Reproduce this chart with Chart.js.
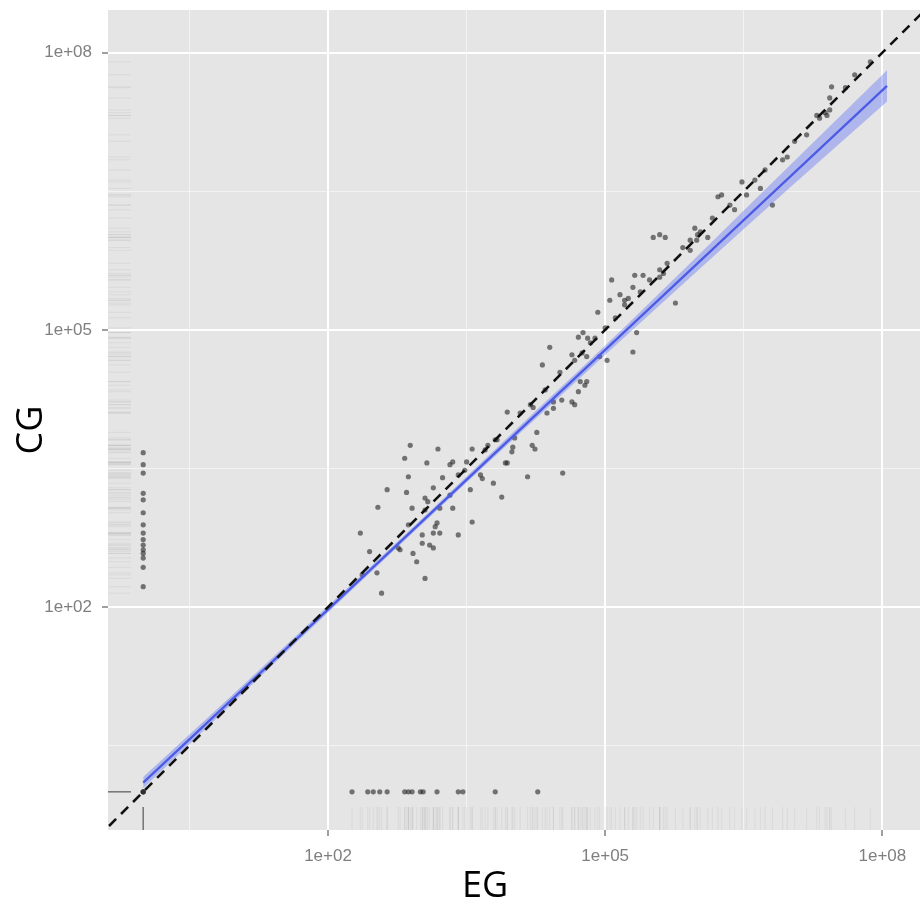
<!DOCTYPE html>
<html>
<head>
<meta charset="utf-8">
<script src="https://cdn.jsdelivr.net/npm/chart.js@4.4.1/dist/chart.umd.min.js"></script>
<style>
html, body { margin: 0; padding: 0; background: #fff; }
#wrap { width: 920px; height: 907px; }
</style>
</head>
<body>
<div id="wrap"><canvas id="chart" width="920" height="907"></canvas></div>
<script>
// ===== DATA (log10 exponents) =====
// main cloud: EG vs CG
const CLOUD_EG = [
  2.89, 3.19, 2.83, 3.07, 3.32, 3.35, 3.50, 3.56, 3.73, 3.83, 4.00, 4.21, 4.24,
  2.87, 3.24, 3.41, 3.65, 3.67, 3.79, 3.94, 4.16, 2.64, 2.85, 3.14, 3.05, 3.08,
  3.32, 3.54, 3.88, 2.54, 2.91, 3.05, 3.21, 3.35, 3.18, 3.16, 2.87, 3.56, 2.35,
  3.02, 3.14, 3.21, 3.41, 3.10, 3.14, 3.02, 2.78, 2.45, 2.92, 2.96, 2.53, 3.05,
  2.58, 4.54, 2.76, 2.37, 3.70, 3.81, 3.48,
  5.07, 5.32, 5.41, 5.76, 5.16, 5.21, 5.25, 5.30, 5.34, 5.30, 5.02, 4.40, 4.32,
  4.71, 4.76, 4.81, 4.84, 4.64, 4.75, 4.80, 4.94, 4.73, 4.78, 4.80, 4.71, 4.64,
  4.67, 4.53, 4.44, 4.19, 4.22, 3.94, 4.37, 4.44, 4.26, 4.02, 3.99, 3.92, 4.08,
  4.35, 4.51, 4.67, 4.89, 5.00, 5.11, 5.21, 5.38, 5.48, 5.59, 5.05, 4.92,
  7.45, 7.43, 6.22, 6.26, 6.48, 6.81, 6.53, 6.92, 6.97, 7.18, 7.38, 7.43, 5.97,
  6.00, 5.99, 6.11, 5.92, 5.84, 5.67, 5.63, 5.59, 5.52, 5.59, 5.65, 7.29, 7.32,
  7.40, 6.03, 6.16, 6.35, 6.62, 6.73, 7.05, 7.60, 7.70, 7.87, 6.68, 6.40, 5.92
];
const CLOUD_CG = [
  3.75, 3.71, 3.61, 3.56, 3.54, 3.57, 3.57, 3.71, 3.75, 3.81, 3.73, 3.75, 3.71,
  3.41, 3.40, 3.43, 3.43, 3.39, 3.34, 3.56, 3.41, 3.27, 3.24, 3.29, 3.18, 3.14,
  3.21, 3.27, 3.19, 3.08, 3.07, 3.05, 3.07, 3.07, 2.91, 2.87, 2.89, 2.92, 2.80,
  2.78, 2.80, 2.80, 2.78, 2.67, 2.64, 2.69, 2.62, 2.60, 2.58, 2.49, 2.37, 2.31,
  2.15, 3.45, 2.64, 2.35, 3.70, 3.81, 3.48,
  5.54, 5.59, 5.59, 5.29, 5.38, 5.32, 5.34, 5.46, 4.97, 4.76, 4.67, 4.81, 4.62,
  4.92, 4.97, 4.91, 4.86, 4.73, 4.75, 4.71, 4.71, 4.44, 4.40, 4.44, 4.33, 4.22,
  4.19, 4.24, 4.22, 4.19, 4.16, 4.11, 4.10, 4.15, 3.89, 3.83, 3.68, 3.56, 4.10,
  4.35, 4.54, 4.67, 4.91, 5.02, 5.13, 5.27, 5.41, 5.54, 5.65, 5.32, 5.19,
  7.63, 7.51, 6.44, 6.46, 6.60, 6.35, 6.46, 6.84, 6.87, 7.11, 7.35, 7.38, 6.10,
  6.03, 5.97, 6.00, 5.86, 5.89, 5.72, 5.61, 5.57, 6.00, 6.03, 6.00, 7.32, 7.29,
  7.32, 6.06, 6.21, 6.35, 6.62, 6.73, 7.04, 7.62, 7.76, 7.90, 6.53, 6.30, 5.97
];
// CG values where EG = 1 (the zeros at the end sit at 1,1)
const COL_CG = [3.67, 3.54, 3.45, 3.23, 3.16, 3.02, 2.89, 2.80, 2.73, 2.67, 2.62, 2.58, 2.53, 2.43, 2.22, 0, 0, 0];
// EG values where CG = 1
const ROW_EG = [2.26, 2.43, 2.49, 2.56, 2.64, 2.83, 2.87, 2.91, 3.00, 3.03, 3.18, 3.41, 3.46, 3.81, 4.27];

// linear fit (log-log) and its confidence band
const FIT_EG = [0, 8.05];
const FIT_CG = [0.10, 7.64];
const BAND_EG = [0, 1, 2, 3, 4, 5, 6, 7, 8.05];
const BAND_LO = [0.04, 0.99, 1.94, 2.88, 3.81, 4.73, 5.64, 6.54, 7.47];
const BAND_HI = [0.16, 1.08, 2.01, 2.94, 3.89, 4.83, 5.80, 6.78, 7.81];
// y = x reference
const DIAG = [-0.5, 8.6];

const MAJOR_TICKS = [2, 5, 8];
const MINOR_TICKS = [0.5, 3.5, 6.5];
const X_RANGE = [-0.381, 8.407];
const Y_RANGE = [-0.413, 8.461];

// ===== HELPERS =====
const pow = e => Math.pow(10, e);
const isMajor = v => MAJOR_TICKS.some(e => Math.abs(Math.log10(v) - e) < 1e-6);
const fmt = v => {
  const e = Math.round(Math.log10(v));
  return isMajor(v) ? '1e+' + String(e).padStart(2, '0') : '';
};

const points = [
  ...CLOUD_EG.map((e, i) => ({ x: pow(e), y: pow(CLOUD_CG[i]) })),
  ...COL_CG.map(c => ({ x: 1, y: pow(c) })),
  ...ROW_EG.map(e => ({ x: pow(e), y: 1 }))
];
const bandLo = BAND_EG.map((e, i) => ({ x: pow(e), y: pow(BAND_LO[i]) }));
const bandHi = BAND_EG.map((e, i) => ({ x: pow(e), y: pow(BAND_HI[i]) }));
const fit = FIT_EG.map((e, i) => ({ x: pow(e), y: pow(FIT_CG[i]) }));
const diag = DIAG.map(e => ({ x: pow(e), y: pow(e) }));

// ===== PLUGINS =====
const panelBg = {
  id: 'panelBg',
  beforeDraw(chart) {
    const { ctx, chartArea: a } = chart;
    ctx.save();
    ctx.fillStyle = '#E5E5E5';
    ctx.fillRect(a.left, a.top, a.right - a.left, a.bottom - a.top);
    ctx.restore();
  }
};

const rug = {
  id: 'rug',
  beforeDatasetsDraw(chart) {
    const { ctx, chartArea: a, scales: { x, y } } = chart;
    const len = 23;
    ctx.save();
    ctx.strokeStyle = 'rgba(0,0,0,0.045)';
    ctx.lineWidth = 1.2;
    points.forEach(p => {
      const px = x.getPixelForValue(p.x);
      const py = y.getPixelForValue(p.y);
      ctx.beginPath(); ctx.moveTo(px, a.bottom); ctx.lineTo(px, a.bottom - len); ctx.stroke();
      ctx.beginPath(); ctx.moveTo(a.left, py); ctx.lineTo(a.left + len, py); ctx.stroke();
    });
    ctx.restore();
  }
};

const axisTitles = {
  id: 'axisTitles',
  afterDraw(chart) {
    const ctx = chart.ctx;
    ctx.save();
    ctx.fillStyle = '#000';
    ctx.font = '36px "Open Sans", "Noto Sans", sans-serif';
    ctx.textAlign = 'center';
    ctx.textBaseline = 'alphabetic';
    ctx.fillText('EG', 485, 897);
    ctx.translate(42, 430);
    ctx.rotate(-Math.PI / 2);
    ctx.fillText('CG', 0, 0);
    ctx.restore();
  }
};

// ===== CHART =====
const axis = (range, size) => ({
  type: 'logarithmic',
  min: pow(range[0]),
  max: pow(range[1]),
  afterBuildTicks: s => {
    s.ticks = [...MINOR_TICKS, ...MAJOR_TICKS].sort((a, b) => a - b).map(e => ({ value: pow(e) }));
  },
  afterFit: s => {
    size(s);
    s.paddingTop = 0; s.paddingBottom = 0; s.paddingLeft = 0; s.paddingRight = 0;
  },
  border: { display: false },
  grid: {
    color: c => (c.tick && isMajor(c.tick.value) ? '#FFFFFF' : 'rgba(255,255,255,0.55)'),
    lineWidth: c => (c.tick && isMajor(c.tick.value) ? 2 : 1),
    tickColor: c => (c.tick && isMajor(c.tick.value) ? '#7F7F7F' : 'rgba(0,0,0,0)'),
    tickLength: 6,
    tickWidth: 1.5
  },
  ticks: {
    autoSkip: false,
    maxRotation: 0,
    padding: 10,
    color: '#7F7F7F',
    font: { family: '"Liberation Sans", Arial, sans-serif', size: 17 },
    callback: v => fmt(v)
  }
});

new Chart(document.getElementById('chart'), {
  type: 'scatter',
  data: {
    datasets: [
      { data: points, backgroundColor: 'rgba(35,35,35,0.6)', borderWidth: 0, pointRadius: 2.6, order: 5 },
      { type: 'line', data: bandLo, borderWidth: 0, pointRadius: 0, fill: false, cubicInterpolationMode: 'monotone', order: 4 },
      { type: 'line', data: bandHi, borderWidth: 0, pointRadius: 0, fill: '-1', backgroundColor: 'rgba(70,90,245,0.34)', cubicInterpolationMode: 'monotone', order: 3 },
      { type: 'line', data: fit, borderColor: '#4B5BE6', borderWidth: 2.2, pointRadius: 0, fill: false, order: 2 },
      { type: 'line', data: diag, borderColor: '#111', borderWidth: 2.6, borderDash: [10, 7], pointRadius: 0, fill: false, clip: 0, order: 1 }
    ]
  },
  options: {
    responsive: false,
    animation: false,
    events: [],
    devicePixelRatio: 1,
    layout: { autoPadding: false, padding: { top: 10, right: 0, left: 0, bottom: 0 } },
    plugins: { legend: { display: false }, tooltip: { enabled: false } },
    scales: {
      x: axis(X_RANGE, s => { s.height = 77; }),
      y: axis(Y_RANGE, s => { s.width = 108; })
    }
  },
  plugins: [panelBg, rug, axisTitles]
});
</script>
</body>
</html>
